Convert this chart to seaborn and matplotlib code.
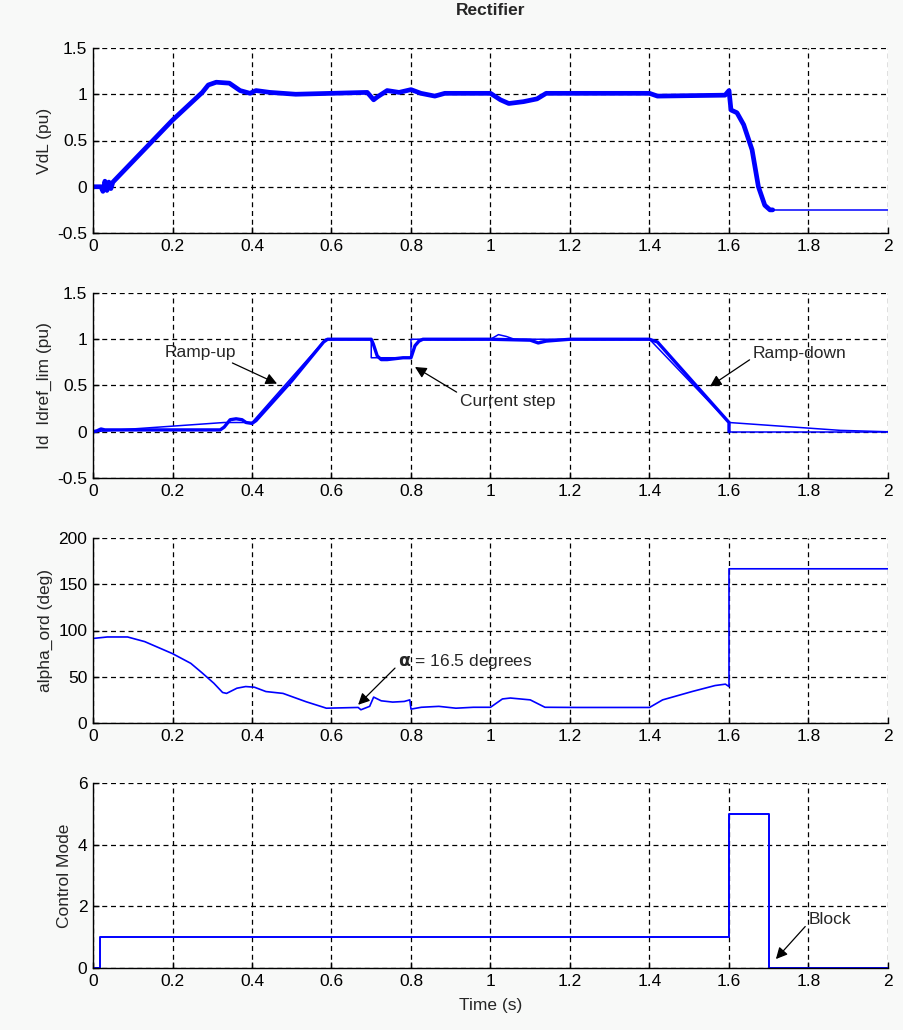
import numpy as np
import pandas as pd
import matplotlib
matplotlib.use("Agg")
import matplotlib.pyplot as plt
import seaborn as sns
from matplotlib import font_manager

# ---------------- data ----------------
time_ticks = [0, 0.2, 0.4, 0.6, 0.8, 1.0, 1.2, 1.4, 1.6, 1.8, 2.0]
time_tick_labels = ["0", "0.2", "0.4", "0.6", "0.8", "1", "1.2", "1.4", "1.6", "1.8", "2"]

# Panel 1: VdL (pu)
vdl_t = [0, 0.02, 0.025, 0.03, 0.035, 0.04, 0.045, 0.05, 0.2, 0.275, 0.29, 0.31, 0.343,
         0.37, 0.395, 0.41, 0.445, 0.51, 0.6, 0.69, 0.706, 0.715, 0.74, 0.77, 0.8, 0.825,
         0.86, 0.885, 0.9, 1.0, 1.025, 1.046, 1.083, 1.117, 1.14, 1.2, 1.4, 1.42, 1.59, 1.6,
         1.605, 1.62, 1.637, 1.658, 1.674, 1.69, 1.703, 1.71, 2.0]
vdl_v = [0, 0, -0.05, 0.06, -0.04, 0.05, -0.02, 0.05, 0.72, 1.02, 1.1, 1.13, 1.12,
         1.04, 1.01, 1.04, 1.02, 1.0, 1.01, 1.02, 0.94, 0.97, 1.04, 1.02, 1.05, 1.01,
         0.98, 1.01, 1.01, 1.01, 0.94, 0.9, 0.92, 0.95, 1.01, 1.01, 1.01, 0.98, 0.99, 1.04,
         0.83, 0.8, 0.67, 0.4, 0.0, -0.2, -0.25, -0.25, -0.25]
vdl_noisy_until = 1.71

# Panel 2: Id (measured, thick) and Idref_lim (thin)
id_t = [0, 0.01, 0.02, 0.03, 0.1, 0.32, 0.33, 0.345, 0.36, 0.375, 0.385, 0.4, 0.41, 0.5,
        0.58, 0.59, 0.7, 0.705, 0.715, 0.725, 0.74, 0.78, 0.8, 0.81, 0.82, 0.83, 1.0,
        1.1, 1.12, 1.14, 1.2, 1.4, 1.42, 1.6, 1.6, 2.0]
id_v = [0, 0.01, 0.03, 0.02, 0.02, 0.02, 0.05, 0.13, 0.14, 0.13, 0.1, 0.09, 0.12, 0.55,
        0.97, 1.0, 1.0, 0.95, 0.82, 0.78, 0.78, 0.8, 0.8, 0.93, 0.98, 1.0, 1.0,
        0.99, 0.96, 0.98, 1.0, 1.0, 0.97, 0.1, 0.0, 0.0]
id_noisy_until = 1.6
idref_t = [0, 0.33, 0.4, 0.585, 0.7, 0.7, 0.8, 0.8, 1.0, 1.02, 1.04, 1.06, 1.4, 1.6, 1.88, 2.0]
idref_v = [0, 0.1, 0.1, 1.0, 1.0, 0.8, 0.8, 1.0, 1.0, 1.05, 1.03, 1.0, 1.0, 0.1, 0.015, 0.0]

# Panel 3: alpha_ord (deg)
alpha_t = [0, 0.036, 0.087, 0.13, 0.2, 0.246, 0.275, 0.304, 0.326, 0.336, 0.362, 0.384,
           0.406, 0.435, 0.478, 0.536, 0.58, 0.587, 0.667, 0.674, 0.696, 0.706, 0.725,
           0.754, 0.783, 0.797, 0.8, 0.826, 0.87, 0.913, 0.957, 1.0, 1.03, 1.05, 1.1,
           1.137, 1.217, 1.4, 1.433, 1.507, 1.565, 1.591, 1.6, 1.6, 2.0]
alpha_v = [91.4, 93, 93, 88, 75, 64.5, 54, 43, 33, 32, 37.6, 39.4,
           38.7, 34, 32, 23, 17, 16, 16.8, 14.3, 18, 28, 24,
           22.6, 23.3, 25, 15, 17, 18, 16, 17, 17, 26, 27, 25,
           17, 16.8, 16.8, 25, 34, 40.5, 42, 39.4, 166.7, 166.7]

# Panel 4: Control Mode
mode_t = [0, 0.018, 0.018, 1.6, 1.6, 1.7, 1.7, 2.0]
mode_v = [0, 0, 1, 1, 5, 5, 0, 0]

ylabels = ["VdL (pu)", "Id  Idref_lim (pu)", "alpha_ord (deg)", "Control Mode"]
ylims = [(-0.5, 1.5), (-0.5, 1.5), (0, 200), (0, 6)]
yticks = [[-0.5, 0, 0.5, 1, 1.5], [-0.5, 0, 0.5, 1, 1.5], [0, 50, 100, 150, 200], [0, 2, 4, 6]]
ytick_labels = [["-0.5", "0", "0.5", "1", "1.5"], ["-0.5", "0", "0.5", "1", "1.5"],
                ["0", "50", "100", "150", "200"], ["0", "2", "4", "6"]]

# ---------------- style ----------------
sns.set_theme(style="white")
names = {f.name for f in font_manager.fontManager.ttflist}
fam = [f for f in ["Liberation Sans Narrow", "Liberation Sans", "DejaVu Sans"] if f in names]
plt.rcParams["font.family"] = fam
plt.rcParams["xtick.direction"] = "in"
plt.rcParams["ytick.direction"] = "in"

BLUE = "#0000ff"
FS = 12.5

fig = plt.figure(figsize=(9.04, 10.30), dpi=100, facecolor="#f8f9f8")
left, width, height = 93 / 904, 795 / 904, 185 / 1030
bottoms = [1 - 233 / 1030, 1 - 478 / 1030, 1 - 723 / 1030, 1 - 968 / 1030]
axes = [fig.add_axes([left, b, width, height]) for b in bottoms]


def draw(ax, t, v, lw, split=None, lw_after=1.1):
    df = pd.DataFrame({"t": t, "v": v})
    if split is None:
        sns.lineplot(data=df, x="t", y="v", ax=ax, color=BLUE, lw=lw,
                     estimator=None, sort=False)
        return
    a = df[df.t <= split]
    b = df[df.t >= split]
    sns.lineplot(data=a, x="t", y="v", ax=ax, color=BLUE, lw=lw, estimator=None, sort=False)
    sns.lineplot(data=b, x="t", y="v", ax=ax, color=BLUE, lw=lw_after, estimator=None, sort=False)


draw(axes[0], vdl_t, vdl_v, 3.4, split=vdl_noisy_until)
draw(axes[1], idref_t, idref_v, 1.1)
draw(axes[1], id_t, id_v, 2.4, split=id_noisy_until)
draw(axes[2], alpha_t, alpha_v, 1.2)
draw(axes[3], mode_t, mode_v, 1.4)

for i, ax in enumerate(axes):
    ax.set_facecolor("white")
    ax.set_xlim(0, 2)
    ax.set_ylim(*ylims[i])
    ax.set_xticks(time_ticks)
    ax.set_xticklabels(time_tick_labels, fontsize=FS)
    ax.set_yticks(yticks[i])
    ax.set_yticklabels(ytick_labels[i], fontsize=FS)
    ax.set_ylabel(ylabels[i], fontsize=FS, labelpad=4)
    ax.set_xlabel("")
    ax.grid(True, color="black", linestyle=(0, (4, 3)), linewidth=0.9)
    for s in ["top", "right"]:
        ax.spines[s].set_visible(False)
    for s in ["left", "bottom"]:
        ax.spines[s].set_color("black")
        ax.spines[s].set_linewidth(1.0)
    ax.tick_params(axis="both", length=4, width=1, color="black", labelcolor="black",
                   pad=4, bottom=True, left=True)

axes[0].set_title("Rectifier", fontsize=FS, fontweight="bold", pad=24)
axes[3].set_xlabel("Time (s)", fontsize=FS, labelpad=7)

arrow = dict(arrowstyle="-|>", color="black", lw=0.9, mutation_scale=17, shrinkA=0, shrinkB=0)
axes[1].annotate("Ramp-up", xy=(0.463, 0.52), xytext=(0.18, 0.86), fontsize=FS,
                 va="center", ha="left", arrowprops=dict(arrow, relpos=(0.85, 0.0)))
axes[1].annotate("Current step", xy=(0.81, 0.70), xytext=(0.923, 0.326), fontsize=FS,
                 va="center", ha="left", arrowprops=dict(arrow, relpos=(0.0, 1.0)))
axes[1].annotate("Ramp-down", xy=(1.552, 0.49), xytext=(1.66, 0.85), fontsize=FS,
                 va="center", ha="left", arrowprops=dict(arrow, relpos=(0.0, 0.2)))
axes[2].annotate(r"$\mathbf{\alpha}$ = 16.5 degrees", xy=(0.667, 19.7), xytext=(0.768, 67),
                 fontsize=FS, va="center", ha="left",
                 arrowprops=dict(arrow, relpos=(0.0, 0.3)))
axes[3].annotate("Block", xy=(1.718, 0.29), xytext=(1.80, 1.56), fontsize=FS,
                 va="center", ha="left", arrowprops=dict(arrow, relpos=(0.0, 0.3)))

fig.savefig("out.png", dpi=100, facecolor=fig.get_facecolor())
